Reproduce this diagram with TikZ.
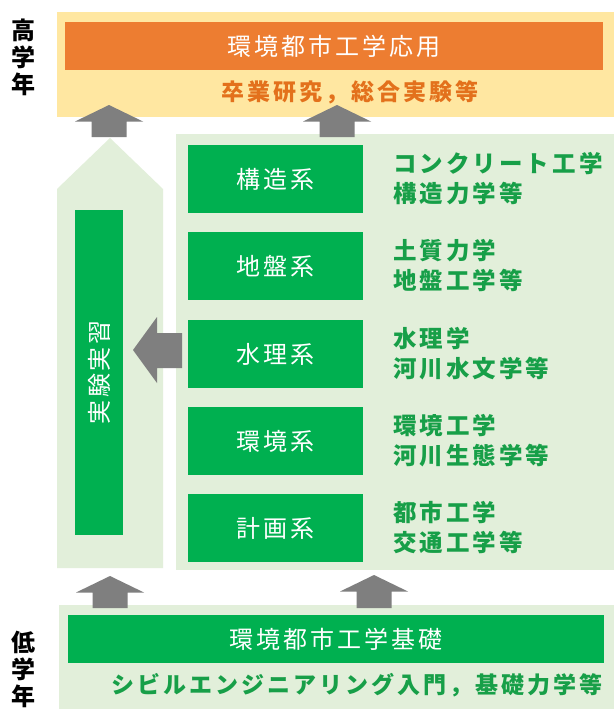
\documentclass[tikz,border=0pt]{standalone}
\usepackage{fontspec}
\newfontfamily\jpw[LetterSpace=12]{Noto Sans CJK JP}
\newfontfamily\jpg[LetterSpace=13]{Noto Sans CJK JP}
\newfontfamily\jps[LetterSpace=13]{Noto Sans CJK JP}
\newfontfamily\jp{Noto Sans CJK JP}
\definecolor{ygold}{HTML}{FFE7A1}
\definecolor{orng}{HTML}{ED7D31}
\definecolor{orngtxt}{HTML}{E3711C}
\definecolor{lgreen}{HTML}{E2EFDA}
\definecolor{gbox}{HTML}{00B050}
\definecolor{gtxt}{HTML}{179F48}
\definecolor{garrow}{HTML}{7F7F7F}
\newcommand\myuparrow[3]{% cx, tip y, base y
  \fill[garrow] (#1,#2) -- (#1+34,#2+16.5) -- (#1+17.5,#2+16.5) -- (#1+17.5,#3)
    -- (#1-17.5,#3) -- (#1-17.5,#2+16.5) -- (#1-34,#2+16.5) -- cycle;}
\tikzset{
  boxbase/.style={inner sep=0pt, outer sep=0pt, anchor=north west},
  gbar/.style={boxbase, fill=gbox, text=white, font=\jpw\fontsize{24}{28}\selectfont},
  obar/.style={boxbase, fill=orng, text=white, font=\jpw\fontsize{24}{28}\selectfont},
  glabel/.style={anchor=west, align=left, inner sep=0pt, text=gtxt,
    font=\jpg\bfseries\fontsize{23.5}{30}\selectfont},
  yearlabel/.style={align=center, inner sep=0pt, font=\jp\bfseries\fontsize{24}{27}\selectfont},
}
\begin{document}
\begin{tikzpicture}[x=1pt,y=-1pt]
\useasboundingbox (0,0) rectangle (614,709);
\fill[white] (0,0) rectangle (614,709);
% top area
\fill[ygold] (57,12) rectangle (614,117);
\node[obar, minimum width=538, minimum height=48] (app) at (65,22) {環境都市工学応用};
\node[inner sep=0pt, text=orngtxt, font=\jps\bfseries\fontsize{23}{26}\selectfont] (appsub) at (350,92) {卒業研究，総合実験等};
\node[yearlabel] (high) at (23,57) {高\\学\\年};
% left pentagon
\fill[lgreen] (57,568) -- (57,189) -- (110,138) -- (163,189) -- (163,568) -- cycle;
\node[gbar, minimum width=48, minimum height=325] (jikken) at (75,210) {};
\node[rotate=90, text=white, inner sep=0pt, font=\jpw\fontsize{24}{28}\selectfont] at (jikken.center) {実験実習};
% right panel
\fill[lgreen] (176,134) rectangle (614,570);
\coordinate (labx) at (393,0);
\node[gbar, minimum width=175, minimum height=68] (kozo) at (188,145) {構造系};
\node[gbar, minimum width=175, minimum height=68] (jiban) at (188,232) {地盤系};
\node[gbar, minimum width=175, minimum height=68] (suiri) at (188,320) {水理系};
\node[gbar, minimum width=175, minimum height=68] (kankyo) at (188,407) {環境系};
\node[gbar, minimum width=175, minimum height=68] (keikaku) at (188,494) {計画系};
\node[glabel] (lkozo) at (kozo.center -| labx) {コンクリート工学\\構造力学等};
\node[glabel] (ljiban) at (jiban.center -| labx) {土質力学\\地盤工学等};
\node[glabel] (lsuiri) at (suiri.center -| labx) {水理学\\河川水文学等};
\node[glabel] (lkankyo) at (kankyo.center -| labx) {環境工学\\河川生態学等};
\node[glabel] (lkeikaku) at (keikaku.center -| labx) {都市工学\\交通工学等};
% bottom area
\fill[lgreen] (59,605) rectangle (614,709);
\node[gbar, minimum width=536, minimum height=48] (base) at (68,615) {環境都市工学基礎};
\node[inner sep=0pt, text=gtxt, font=\jps\bfseries\fontsize{23}{26}\selectfont] (basesub) at (357,685) {シビルエンジニアリング入門，基礎力学等};
\node[yearlabel] (low) at (23,669) {低\\学\\年};
% arrows
\myuparrow{109}{105}{137}
\myuparrow{337}{105}{137}
\myuparrow{110}{576}{608}
\myuparrow{374}{575}{608}
\fill[garrow] (133,350) -- (157,317) -- (157,333) -- (182,333) -- (182,368) -- (157,368) -- (157,383) -- cycle;
\end{tikzpicture}
\end{document}
